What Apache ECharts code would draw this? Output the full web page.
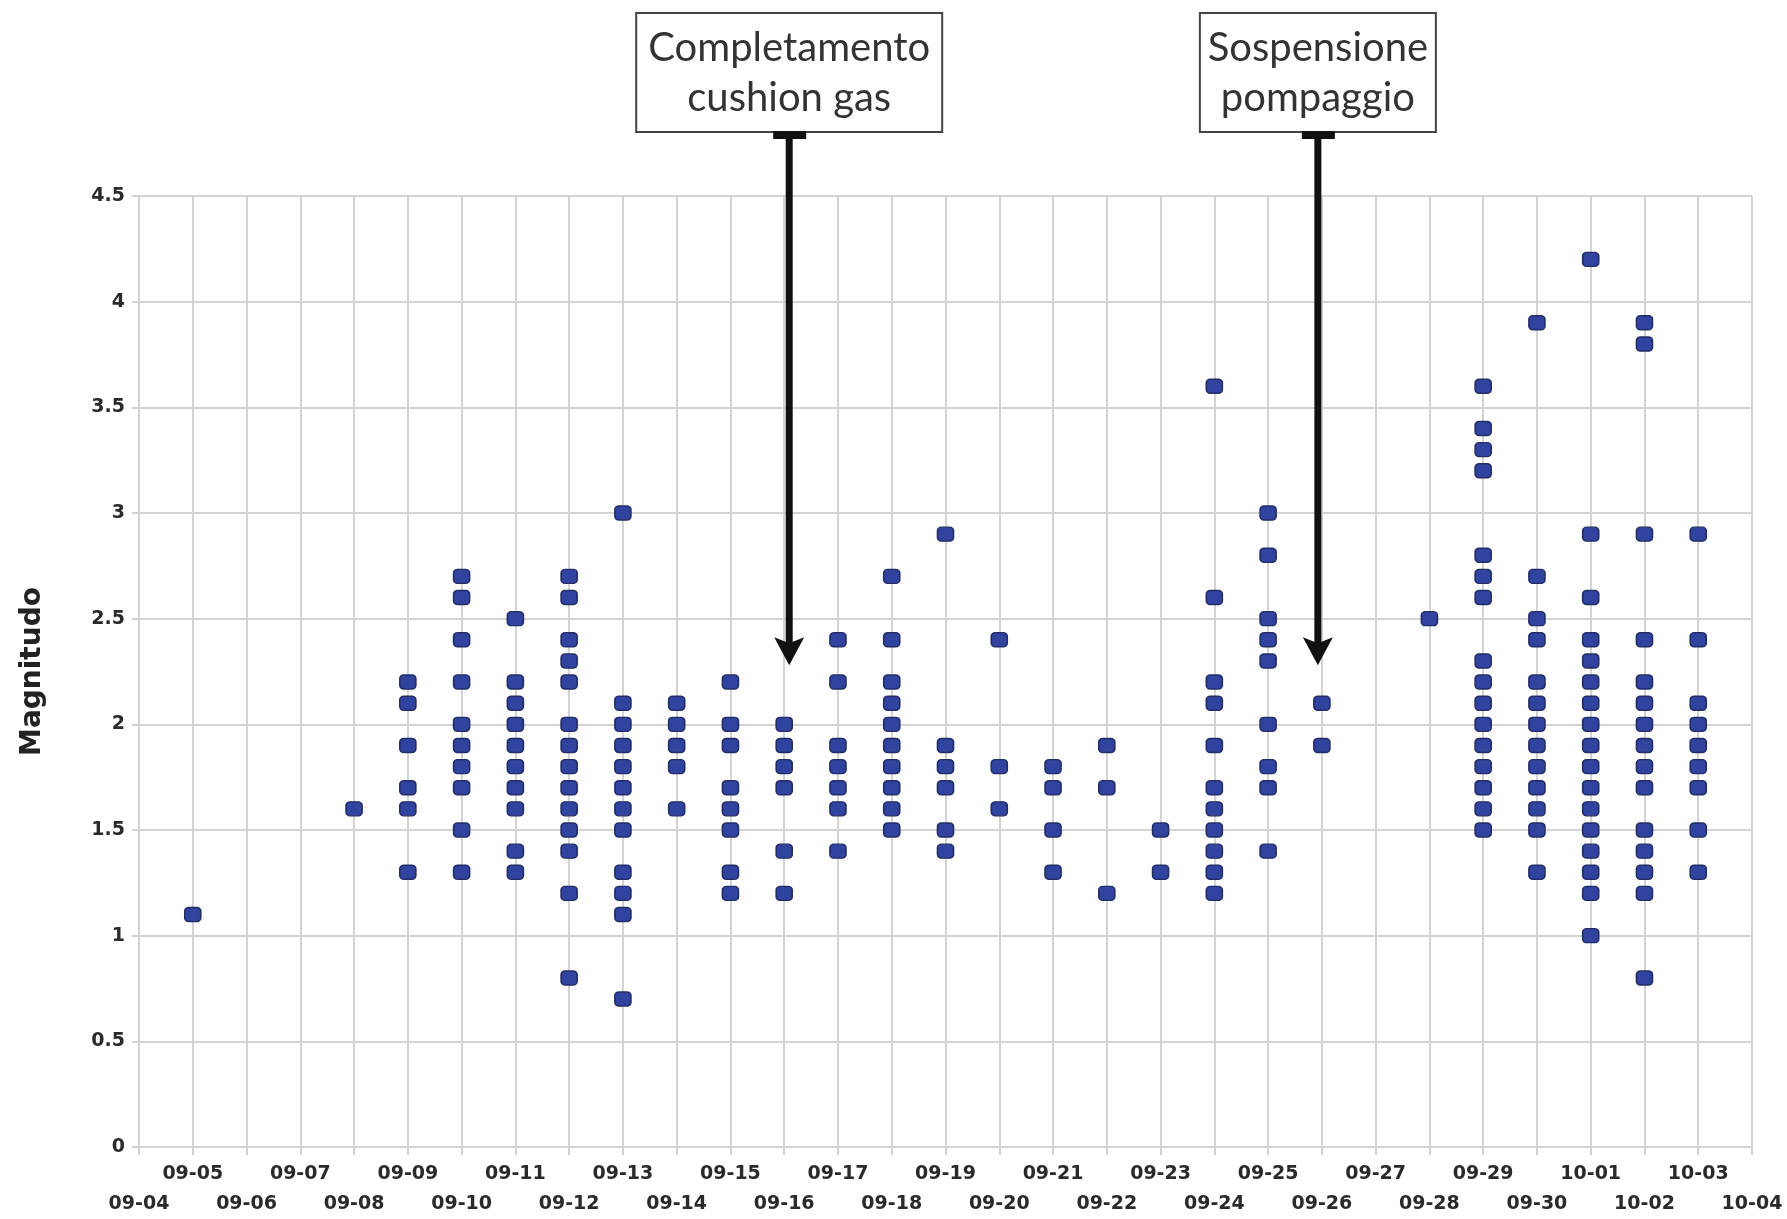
<!DOCTYPE html>
<html>
<head>
<meta charset="utf-8">
<script src="https://cdn.jsdelivr.net/npm/echarts@6/dist/echarts.min.js"></script>
<style>
html,body{margin:0;padding:0;background:#fff;}
#chart{width:1787px;height:1219px;}
</style>
</head>
<body>
<div id="chart"></div>
<script>
// x-axis tick labels (one per day)
const dayLabels = ['09-04','09-05','09-06','09-07','09-08','09-09','09-10','09-11','09-12','09-13',
  '09-14','09-15','09-16','09-17','09-18','09-19','09-20','09-21','09-22','09-23','09-24','09-25',
  '09-26','09-27','09-28','09-29','09-30','10-01','10-02','10-03','10-04'];

// days with events and their magnitudes
const eventDays = ['09-05','09-08','09-09','09-10','09-11','09-12','09-13','09-14','09-15','09-16',
  '09-17','09-18','09-19','09-20','09-21','09-22','09-23','09-24','09-25','09-26','09-28','09-29',
  '09-30','10-01','10-02','10-03'];
const eventMagnitudes = [
  [1.1],
  [1.6],
  [2.2,2.1,1.9,1.7,1.6,1.3],
  [2.7,2.6,2.4,2.2,2.0,1.9,1.8,1.7,1.5,1.3],
  [2.5,2.2,2.1,2.0,1.9,1.8,1.7,1.6,1.4,1.3],
  [2.7,2.6,2.4,2.3,2.2,2.0,1.9,1.8,1.7,1.6,1.5,1.4,1.2,0.8],
  [3.0,2.1,2.0,1.9,1.8,1.7,1.6,1.5,1.3,1.2,1.1,0.7],
  [2.1,2.0,1.9,1.8,1.6],
  [2.2,2.0,1.9,1.7,1.6,1.5,1.3,1.2],
  [2.0,1.9,1.8,1.7,1.4,1.2],
  [2.4,2.2,1.9,1.8,1.7,1.6,1.4],
  [2.7,2.4,2.2,2.1,2.0,1.9,1.8,1.7,1.6,1.5],
  [2.9,1.9,1.8,1.7,1.5,1.4],
  [2.4,1.8,1.6],
  [1.8,1.7,1.5,1.3],
  [1.9,1.7,1.2],
  [1.5,1.3],
  [3.6,2.6,2.2,2.1,1.9,1.7,1.6,1.5,1.4,1.3,1.2],
  [3.0,2.8,2.5,2.4,2.3,2.0,1.8,1.7,1.4],
  [2.1,1.9],
  [2.5],
  [3.6,3.4,3.3,3.2,2.8,2.7,2.6,2.3,2.2,2.1,2.0,1.9,1.8,1.7,1.6,1.5],
  [3.9,2.7,2.5,2.4,2.2,2.1,2.0,1.9,1.8,1.7,1.6,1.5,1.3],
  [4.2,2.9,2.6,2.4,2.3,2.2,2.1,2.0,1.9,1.8,1.7,1.6,1.5,1.4,1.3,1.2,1.0],
  [3.9,3.8,2.9,2.4,2.2,2.1,2.0,1.9,1.8,1.7,1.5,1.4,1.3,1.2,0.8],
  [2.9,2.4,2.1,2.0,1.9,1.8,1.7,1.5,1.3]
];

// y-axis ticks
const yMin = 0, yMax = 4.5, yStep = 0.5;
const yAxisTitle = 'Magnitudo';

// annotations
const annotationTexts = ['Completamento\ncushion gas', 'Sospensione\npompaggio'];
const annotationDays = ['09-16', '09-26'];
const annotationTipValues = [2.28, 2.28];

const points = [];
eventDays.forEach((d, i) => eventMagnitudes[i].forEach(m => points.push([d, m])));

const chart = echarts.init(document.getElementById('chart'), null, {renderer: 'canvas'});
const gridColor = '#d3d3d3';
const labelFont = {fontFamily: 'DejaVu Sans', fontWeight: 'bold', fontSize: 19, color: '#2a2a2a'};

chart.setOption({
  backgroundColor: '#ffffff',
  animation: false,
  grid: {left: 139, right: 35, top: 196, bottom: 70},
  xAxis: {
    type: 'category',
    data: dayLabels,
    boundaryGap: false,
    axisLine: {show: true, lineStyle: {color: gridColor, width: 2}},
    axisTick: {show: true, interval: 0, length: 8, lineStyle: {color: gridColor, width: 2}},
    splitLine: {show: true, interval: 0, lineStyle: {color: gridColor, width: 2}},
    axisLabel: Object.assign({}, labelFont, {
      interval: 0, margin: 12, lineHeight: 30,
      formatter: (v, i) => (i % 2 === 1 ? v + '\n ' : ' \n' + v)
    })
  },
  yAxis: {
    type: 'value',
    min: yMin, max: yMax, interval: yStep,
    name: yAxisTitle,
    nameLocation: 'middle',
    nameGap: 92,
    nameTextStyle: {fontFamily: 'DejaVu Sans', fontWeight: 'bold', fontSize: 28, color: '#222'},
    axisLine: {show: true, lineStyle: {color: gridColor, width: 2}},
    axisTick: {show: true, length: 7, lineStyle: {color: gridColor, width: 2}},
    splitLine: {show: true, lineStyle: {color: gridColor, width: 2}},
    axisLabel: Object.assign({}, labelFont, {margin: 14})
  },
  series: [{
    type: 'scatter',
    data: points,
    symbol: 'roundRect',
    symbolSize: [16, 14],
    itemStyle: {color: '#30449f', borderColor: '#232c66', borderWidth: 1.5, opacity: 1}
  }]
});

// draw annotation boxes and arrows, anchored on the axis scale
const boxWidths = [306, 236];
const graphics = [];
annotationDays.forEach((d, i) => {
  const tip = chart.convertToPixel({seriesIndex: 0}, [d, annotationTipValues[i]]);
  const x = tip[0] + (i === 0 ? 5 : -4);
  const tipY = tip[1];
  const w = boxWidths[i];
  graphics.push({
    type: 'rect', shape: {x: x - w / 2, y: 13, width: w, height: 119},
    style: {fill: '#fff', stroke: '#444', lineWidth: 2}, z: 10
  });
  graphics.push({
    type: 'text', x: x, y: 73,
    style: {text: annotationTexts[i], fontFamily: 'Lato', fontSize: 40, lineHeight: 50,
      fill: '#333', textAlign: 'center', textVerticalAlign: 'middle'}, z: 11
  });
  graphics.push({
    type: 'rect', shape: {x: x - 16, y: 131, width: 33, height: 8},
    style: {fill: '#111'}, z: 10
  });
  graphics.push({
    type: 'line', shape: {x1: x, y1: 135, x2: x, y2: tipY - 22},
    style: {stroke: '#111', lineWidth: 7}, z: 10
  });
  graphics.push({
    type: 'polygon', shape: {points: [[x - 15, tipY - 28], [x, tipY - 22], [x + 15, tipY - 28], [x, tipY]]},
    style: {fill: '#111'}, z: 10
  });
});
chart.setOption({graphic: graphics});
</script>
</body>
</html>
